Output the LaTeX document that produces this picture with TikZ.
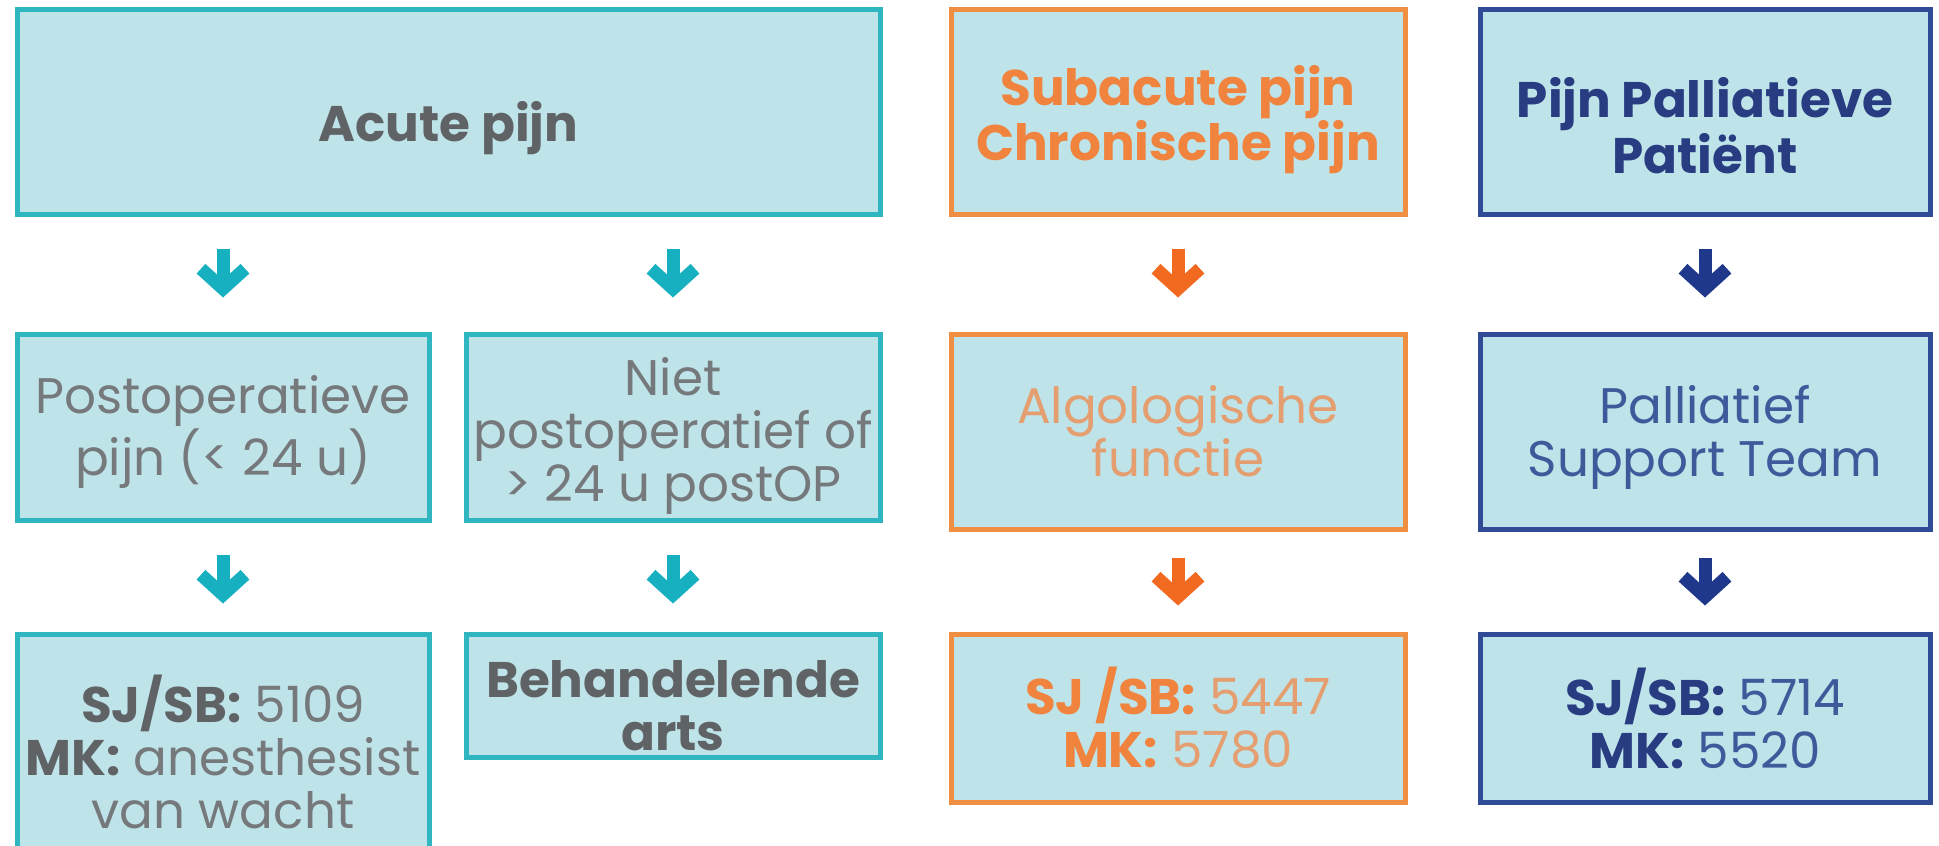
\documentclass[tikz,border=0pt]{standalone}
\usepackage{fontspec}
\setmainfont{Poppins}
\usetikzlibrary{arrows.meta}

\definecolor{boxfill}{RGB}{190,227,232}
\definecolor{tealline}{RGB}{48,182,192}
\definecolor{tealarrow}{RGB}{22,176,192}
\definecolor{greytext}{RGB}{118,121,124}
\definecolor{greybold}{RGB}{96,99,102}
\definecolor{orangeline}{RGB}{240,142,66}
\definecolor{orangetext}{RGB}{228,158,112}
\definecolor{orangebold}{RGB}{240,132,62}
\definecolor{orangearrow}{RGB}{242,106,32}
\definecolor{navyline}{RGB}{48,76,150}
\definecolor{navytext}{RGB}{62,90,155}
\definecolor{navybold}{RGB}{40,60,130}
\definecolor{navyarrow}{RGB}{32,56,140}

\tikzset{
  box/.style={draw, fill=boxfill, line width=2.5pt, align=center, inner sep=0pt,
    font=\fontsize{25}{26.5}\selectfont},
  headbox/.style={box, font=\fontsize{25}{26.5}\selectfont\bfseries},
  tealbox/.style={draw=tealline, text=greytext},
  orangebox/.style={draw=orangeline, text=orangetext},
  navybox/.style={draw=navyline, text=navytext},
  pushdown/.style={execute at begin node={\rule{0pt}{#1}}},
  downarrow/.style={line width=6.5pt, -{Straight Barb[length=10pt, width=22pt]}},
}

\begin{document}
\begin{tikzpicture}[x=0.5pt, y=-0.5pt]

    \clip (0,0) rectangle (1939,846);

    % Top row: kind of pain
    \node[headbox, tealbox, text=greybold, pushdown=37pt, minimum width=431.5pt, minimum height=102.5pt]
        (acute) at (448.5,111.5) {Acute pijn};
    \node[headbox, orangebox, text=orangebold, pushdown=56pt, minimum width=227pt, minimum height=102.5pt]
        (subacute) at (1178,111.5) {Subacute pijn\\Chronische pijn};
    \node[headbox, navybox, text=navybold, pushdown=62pt, minimum width=225pt, minimum height=102.5pt]
        (palliative) at (1705,111.5) {Pijn Palliatieve\\Patiënt};

    % Middle row
    \node[box, tealbox, pushdown=55pt, minimum width=206pt, minimum height=93pt]
        (postop) at (223,427) {Postoperatieve\\pijn (< 24 u)};
    \node[box, tealbox, pushdown=81pt, minimum width=207pt, minimum height=93pt]
        (niet) at (673,427) {Niet\\postoperatief of\\> 24 u postOP};
    \node[box, orangebox, minimum width=227pt, minimum height=97.5pt]
        (algo) at (1178,431.5) {Algologische\\functie};
    \node[box, navybox, pushdown=51pt, minimum width=225pt, minimum height=97.5pt]
        (pst) at (1705,431.5) {Palliatief\\Support Team};

    % Bottom row: who to call
    \node[box, tealbox, minimum width=206pt, minimum height=118pt]
        (anest) at (223,752)
        {\textcolor{greybold}{\bfseries SJ/SB:} 5109\\\textcolor{greybold}{\bfseries MK:} anesthesist\\van wacht};
    \node[headbox, tealbox, text=greybold, pushdown=55pt, minimum width=207pt, minimum height=61.5pt]
        (arts) at (673,695.5) {Behandelende\\arts};
    \node[box, orangebox, pushdown=49pt, minimum width=227pt, minimum height=84pt]
        (algonr) at (1178,718)
        {\textcolor{orangebold}{\bfseries SJ /SB:} 5447\\\textcolor{orangebold}{\bfseries MK:} 5780};
    \node[box, navybox, pushdown=49pt, minimum width=225pt, minimum height=84pt]
        (pstnr) at (1705,718)
        {\textcolor{navybold}{\bfseries SJ/SB:} 5714\\\textcolor{navybold}{\bfseries MK:} 5520};

    % Arrows, first row
    \draw[downarrow, tealarrow, shorten <=16pt, shorten >=17pt] (acute.south -| postop.north) -- (postop.north);
    \draw[downarrow, tealarrow, shorten <=16pt, shorten >=17pt] (acute.south -| niet.north) -- (niet.north);
    \draw[downarrow, orangearrow, shorten <=16pt, shorten >=17pt] (subacute.south) -- (algo.north);
    \draw[downarrow, navyarrow, shorten <=16pt, shorten >=17pt] (palliative.south) -- (pst.north);

    % Arrows, second row
    \draw[downarrow, tealarrow, shorten <=16pt, shorten >=14pt] (postop.south) -- (anest.north);
    \draw[downarrow, tealarrow, shorten <=16pt, shorten >=14pt] (niet.south) -- (arts.north);
    \draw[downarrow, orangearrow, shorten <=13pt, shorten >=13pt] (algo.south) -- (algonr.north);
    \draw[downarrow, navyarrow, shorten <=13pt, shorten >=13pt] (pst.south) -- (pstnr.north);

\end{tikzpicture}
\end{document}
